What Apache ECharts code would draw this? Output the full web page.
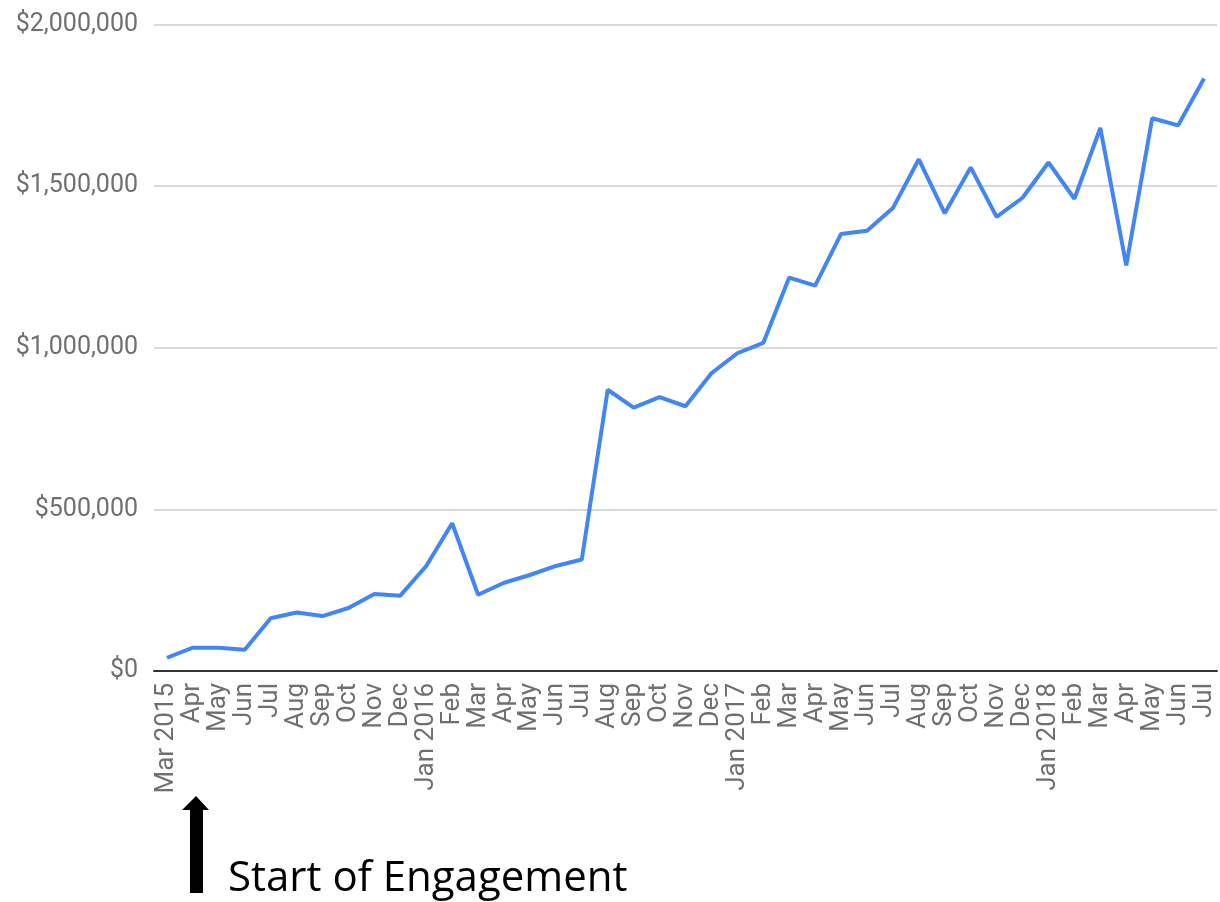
<!DOCTYPE html>
<html>
<head>
<meta charset="utf-8">
<script src="https://cdn.jsdelivr.net/npm/echarts@6/dist/echarts.min.js"></script>
<style>
  html, body { margin: 0; padding: 0; background: #fff; }
  #chart { width: 1220px; height: 902px; }
</style>
</head>
<body>
<div id="chart"></div>
<script>
const categories = [
  'Mar 2015','Apr','May','Jun','Jul','Aug','Sep','Oct','Nov','Dec',
  'Jan 2016','Feb','Mar','Apr','May','Jun','Jul','Aug','Sep','Oct','Nov','Dec',
  'Jan 2017','Feb','Mar','Apr','May','Jun','Jul','Aug','Sep','Oct','Nov','Dec',
  'Jan 2018','Feb','Mar','Apr','May','Jun','Jul'
];
const revenue = [
  41000, 72000, 72000, 66000, 163000, 181000, 170000, 195000, 238000, 233000,
  325000, 457000, 236000, 273000, 297000, 325000, 345000, 870000, 815000, 847000, 819000, 921000,
  983000, 1015000, 1217000, 1192000, 1352000, 1362000, 1432000, 1583000, 1416000, 1558000, 1405000, 1464000,
  1573000, 1461000, 1680000, 1255000, 1710000, 1688000, 1833000
];
const yTicks = [0, 500000, 1000000, 1500000, 2000000];
const annotationText = 'Start of Engagement';

const chart = echarts.init(document.getElementById('chart'), null, { renderer: 'canvas' });
const fmt = v => '$' + v.toString().replace(/\B(?=(\d{3})+(?!\d))/g, ',');

chart.setOption({
  animation: false,
  backgroundColor: '#ffffff',
  grid: { left: 154, right: 3, top: 24.5, bottom: 231, containLabel: false },
  xAxis: {
    type: 'category',
    data: categories,
    boundaryGap: true,
    axisLine: { show: true, lineStyle: { color: '#333333', width: 2 } },
    axisTick: { show: false },
    axisLabel: {
      interval: 0, rotate: 90, margin: 12,
      color: '#6f6f6f', fontSize: 26, fontFamily: 'Roboto, Arial, sans-serif'
    },
    splitLine: { show: false }
  },
  yAxis: {
    type: 'value',
    min: yTicks[0], max: yTicks[yTicks.length - 1], interval: 500000,
    axisLine: { show: false },
    axisTick: { show: false },
    axisLabel: {
      margin: 16, color: '#6f6f6f', fontSize: 25,
      fontFamily: 'Roboto, Arial, sans-serif',
      formatter: fmt
    },
    splitLine: { lineStyle: { color: '#cccccc', width: 1.5 } }
  },
  series: [{
    type: 'line',
    data: revenue,
    symbol: 'none',
    lineStyle: { color: '#4285F4', width: 4 },
    z: 3
  }],
  graphic: [
    {
      type: 'polygon',
      shape: { points: [[196, 796], [182, 810], [190, 810], [190, 893], [203, 893], [203, 810], [209, 810]] },
      style: { fill: '#000000' }
    },
    {
      type: 'text',
      left: 228, top: 858,
      style: { text: annotationText, fill: '#000000', font: '42px "Open Sans", sans-serif' }
    }
  ]
});
</script>
</body>
</html>
